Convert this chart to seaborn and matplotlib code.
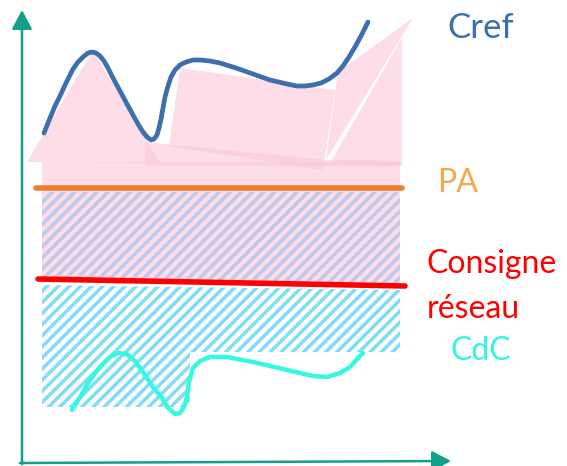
import numpy as np
import seaborn as sns
import matplotlib.pyplot as plt
from matplotlib.patches import Polygon

sns.set_theme(style="white")
plt.rcParams['font.family'] = ['Lato', 'DejaVu Sans']
plt.rcParams['hatch.linewidth'] = 2.6

# Schematic drawn in picture units (x to the right, y downwards)
cref_x = [44, 50, 55, 60, 66, 73, 78, 83, 88, 92, 96, 100, 104, 108, 113, 120, 127, 133, 138, 143, 147, 151,
          154, 157, 159, 161, 163, 165, 168, 171, 175, 180, 186, 193, 200, 210, 220, 236, 253, 270, 287, 297,
          305, 313, 321, 329, 337, 343, 349, 355, 361, 368]
cref_y = [133, 118, 106, 96, 83, 69, 62, 57, 53, 52, 53, 56, 61, 68, 78, 91, 104, 115, 124, 132, 137, 140,
          139, 135, 128, 119, 108, 97, 86, 77, 70, 65, 62, 60, 60, 61, 63, 68, 74, 80, 84, 86,
          86, 85, 83, 79, 73, 66, 57, 47, 36, 22]

cdc_x = [72, 80, 90, 100, 110, 118, 127, 135, 143, 153, 162, 168, 175, 180, 184, 187, 189, 193, 200, 210,
         227, 253, 287, 313, 327, 340, 350, 358, 363]
cdc_y = [410, 397, 380, 367, 357, 353, 354, 361, 372, 387, 398, 408, 414, 413, 407, 397, 382, 368, 361, 357,
         357, 362, 370, 376, 377, 373, 367, 358, 353]

pa_x = [36, 402]
pa_y = [188, 188]

consigne_x = [38, 405]
consigne_y = [279, 286]

# pink zones (Cref envelope)
pink_zones = [
    [(42, 162), (400, 162), (400, 284), (42, 282)],
    [(27, 162), (93, 50), (160, 163)],
    [(145, 142), (325, 160), (400, 161), (400, 166), (145, 166)],
    [(180, 68), (335, 90), (323, 170), (169, 146)],
    [(338, 72), (413, 18), (326, 160)],
    [(330, 163), (402, 38), (402, 166)],
]
upper_hatch = [(42, 192), (400, 192), (400, 283), (42, 281)]
lower_hatch = [(42, 285), (400, 290), (400, 352), (190, 352), (190, 407), (42, 407)]

labels = ["Cref", "PA", "Consigne", "réseau", "CdC"]
label_colors = ["#3d6fb0", "#f5a94a", "#ff0000", "#ff0000", "#33f5e0"]
label_pos = [(447, 38), (437, 192), (427, 273), (427, 318), (450, 360)]
label_sizes = [25, 23, 23, 23, 23]

teal = "#12a08b"

fig = plt.figure(figsize=(5.67, 4.66), dpi=100)
ax = fig.add_axes([0, 0, 1, 1])
ax.set_xlim(0, 567)
ax.set_ylim(466, 0)
ax.axis('off')

for pts in pink_zones:
    ax.add_patch(Polygon(pts, closed=True, facecolor='#fbc8da', alpha=0.62,
                         edgecolor='none', zorder=1))

ax.add_patch(Polygon(upper_hatch, closed=True, facecolor='none', edgecolor='#c0c8ec',
                     hatch='///', linewidth=0, zorder=2))
ax.add_patch(Polygon(lower_hatch, closed=True, facecolor='none', edgecolor='#84dcf7',
                     hatch='///', linewidth=0, zorder=2))

sns.lineplot(x=cref_x, y=cref_y, sort=False, color='#3d6fad', linewidth=3.4, ax=ax, zorder=4)
sns.lineplot(x=cdc_x, y=cdc_y, sort=False, color='#33f8e2', linewidth=3.2, ax=ax, zorder=4)
sns.lineplot(x=pa_x, y=pa_y, sort=False, color='#ed7d31', linewidth=4, ax=ax, zorder=4)
sns.lineplot(x=consigne_x, y=consigne_y, sort=False, color='#ff0000', linewidth=4, ax=ax, zorder=4)

# axes arrows
arrow = dict(arrowstyle='-|>,head_length=0.58,head_width=0.31', color=teal, lw=1.8,
             mutation_scale=20, shrinkA=0, shrinkB=0)
ax.annotate('', xy=(22, 10), xytext=(22, 464), arrowprops=arrow)
ax.annotate('', xy=(451, 461), xytext=(20, 463), arrowprops=arrow)

for txt, col, (tx, ty), fs in zip(labels, label_colors, label_pos, label_sizes):
    ax.text(tx, ty, txt, color=col, fontsize=fs, ha='left', va='baseline')

fig.savefig("out.png", dpi=100)
